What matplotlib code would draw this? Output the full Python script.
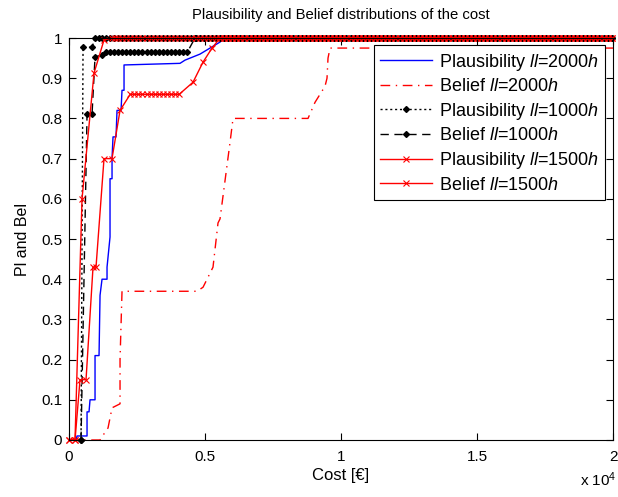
import numpy as np
import matplotlib
matplotlib.use("Agg")
from matplotlib import pyplot as plt

plt.rcParams['font.family'] = ['Liberation Sans', 'DejaVu Sans']
plt.rcParams['mathtext.fontset'] = 'custom'
plt.rcParams['mathtext.rm'] = 'Liberation Sans'
plt.rcParams['mathtext.it'] = 'Liberation Sans:italic'

# cost grid on which the distributions were evaluated (tail part)
cost_grid = np.arange(0, 20001, 150)

# Plausibility ll=2000h (blue, no markers)
pl2000_x = [0, 257, 294, 662, 662, 735, 772, 956, 956, 1103, 1140, 1213, 1397, 1397,
            1507, 1507, 1581, 1581, 1617, 1728, 1764, 1912, 1948, 2022, 2022,
            4080, 4264, 4448, 4815, 5183, 5551, 5735, 20000]
pl2000_y = [0, 0, 0.01, 0.01, 0.07, 0.07, 0.10, 0.10, 0.21, 0.21, 0.36, 0.40, 0.40, 0.43,
            0.505, 0.65, 0.65, 0.70, 0.754, 0.754, 0.82, 0.82, 0.87, 0.87, 0.933,
            0.937, 0.945, 0.95, 0.96, 0.975, 0.99, 1.0, 1.0]

# Belief ll=2000h (red dash-dot, no markers)
be2000_x = [0, 1140, 1213, 1434, 1581, 1875, 1875, 1948, 4705, 4926, 5000, 5293, 5477,
            5551, 5918, 6029, 8786, 9043, 9227, 9411, 9484, 9521, 9595, 20000]
be2000_y = [0, 0, 0.008, 0.03, 0.08, 0.09, 0.20, 0.37, 0.37, 0.38, 0.39, 0.43, 0.54,
            0.55, 0.74, 0.80, 0.80, 0.84, 0.86, 0.88, 0.90, 0.95, 0.975, 0.975]

# Plausibility ll=1000h (black dotted, dots)
pl1000_x = [441, 515, 845, 956]
pl1000_y = [0, 0.977, 0.977, 1.0]

# Belief ll=1000h (black dashed, dots)
be1000_x = [441, 662, 845, 956, 1213]
be1000_y = [0, 0.81, 0.81, 0.953, 0.958]
be1000_flat = (1250, 4450, 0.965)   # flat part: from, to, level
be1000_one = 4630

# Plausibility ll=1500h (red solid, x)
pl1500_x = [0, 220, 478, 919, 1286, 1580]
pl1500_y = [0, 0, 0.60, 0.913, 0.995, 1.0]

# Belief ll=1500h (red solid, x)
be1500_x = [0, 220, 404, 625, 882, 992, 1286, 1580, 1875]
be1500_y = [0, 0, 0.15, 0.15, 0.43, 0.43, 0.70, 0.70, 0.82]
be1500_flat = (2242, 4190, 0.86)
be1500_x2 = [4558, 4926, 5257]
be1500_y2 = [0.89, 0.94, 0.975]
be1500_one = 5551


def with_tail(xs, ys, start):
    t = cost_grid[cost_grid > start]
    return list(xs) + [start] + list(t), list(ys) + [1.0] + [1.0] * len(t)


def flat(a, b, level):
    t = cost_grid[(cost_grid >= a) & (cost_grid <= b)]
    return list(t), [level] * len(t)


def lab(name, hours):
    return name + r' $\mathit{ll}$=$\mathit{' + hours + '}$'


fig = plt.figure(figsize=(6.18, 4.97), dpi=100)
ax = fig.add_axes([0.1117, 0.1147, 0.8803, 0.8088])

ax.plot(pl2000_x, pl2000_y, color='b', lw=1.0, label=lab('Plausibility', '2000h'))
ax.plot(be2000_x, be2000_y, color='r', lw=1.0, ls=(0, (7, 4, 1, 4)),
        label=lab('Belief', '2000h'))

x, y = with_tail(pl1000_x, pl1000_y, 1100)
ax.plot(x, y, color='k', lw=1.0, ls=(0, (1.5, 2)), marker='D', ms=3, clip_on=False,
        label=lab('Plausibility', '1000h'))

fx, fy = flat(*be1000_flat)
x, y = with_tail(be1000_x + fx, be1000_y + fy, be1000_one)
ax.plot(x, y, color='k', lw=1.0, ls=(0, (6, 4)), marker='D', ms=3, clip_on=False,
        label=lab('Belief', '1000h'))

x, y = with_tail(pl1500_x, pl1500_y, 1700)
ax.plot(x, y, color='r', lw=1.0, marker='x', ms=5, mew=0.8, clip_on=False,
        label=lab('Plausibility', '1500h'))

fx, fy = flat(*be1500_flat)
x, y = with_tail(be1500_x + fx + be1500_x2, be1500_y + fy + be1500_y2, be1500_one)
ax.plot(x, y, color='r', lw=1.0, marker='x', ms=5, mew=0.8, clip_on=False,
        label=lab('Belief', '1500h'))

ax.set_xlim(0, 20000)
ax.set_ylim(0, 1)
ax.set_xticks([0, 5000, 10000, 15000, 20000])
ax.set_xticklabels(['0', '0.5', '1', '1.5', '2'])
ax.set_yticks(np.arange(0, 1.01, 0.1))
ax.set_yticklabels(['0', '0.1', '0.2', '0.3', '0.4', '0.5', '0.6', '0.7', '0.8', '0.9', '1'])
ax.tick_params(direction='in', top=True, right=True, labelsize=11, length=5, width=0.8)
ax.tick_params(axis='x', pad=7)
ax.tick_params(axis='y', pad=5)
for s in ax.spines.values():
    s.set_linewidth(0.8)

ax.set_title('Plausibility and Belief distributions of the cost', fontsize=10.7, pad=14)
ax.set_xlabel('Cost [€]', fontsize=12, labelpad=3)
ax.set_ylabel('Pl and Bel', fontsize=11.5, labelpad=8)
fig.text(0.938, 0.022, r'x 10$^4$', fontsize=11)

leg = ax.legend(loc='upper right', bbox_to_anchor=(0.985, 0.982), borderaxespad=0,
                fontsize=13, handlelength=2.9, labelspacing=0.31, borderpad=0.35,
                handletextpad=0.35, fancybox=False, framealpha=1, edgecolor='k')
leg.get_frame().set_linewidth(0.8)

fig.savefig('out.png', dpi=100)
